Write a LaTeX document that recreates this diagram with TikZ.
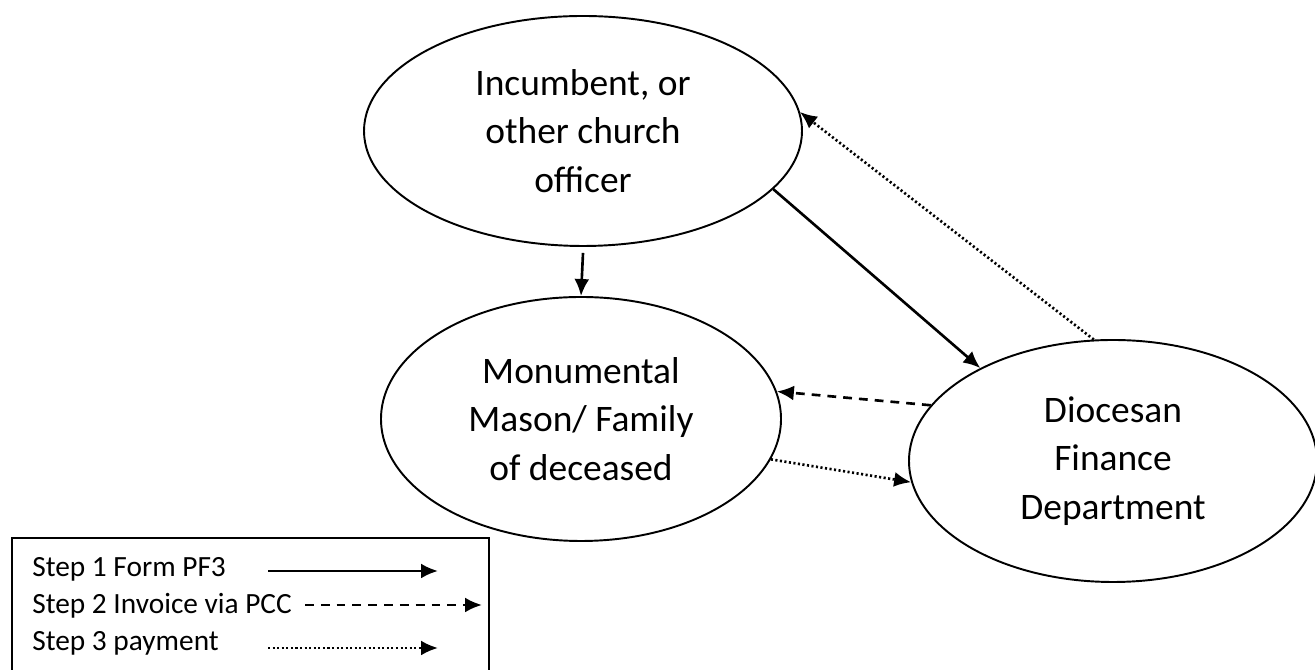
\documentclass[tikz,border=0pt]{standalone}
\usepackage{fontspec}
\setmainfont{Carlito}
\usetikzlibrary{shapes.geometric,arrows.meta}

\tikzset{
  party/.style={draw,ellipse,line width=1.1pt,align=center,inner sep=0pt,font=\fontsize{21.3}{27.5}\selectfont},
  formline/.style={line width=1.5pt,->},
  invoiceline/.style={line width=1.5pt,dash pattern=on 5pt off 4pt,->},
  payline/.style={line width=1.5pt,dash pattern=on 1.2pt off 1.4pt,->},
  keytext/.style={anchor=base west,inner sep=0pt,font=\fontsize{16.7}{21}\selectfont},
}

\begin{document}
\begin{tikzpicture}[>={Latex[length=0.34cm,width=0.3cm]}]
\useasboundingbox (0,0) rectangle (26.3,13.4);

\node [party,minimum width=8.76cm,minimum height=4.6cm] (inc) at(11.66,10.78){Incumbent, or\\other church\\officer};
\node [party,minimum width=8cm,minimum height=4.88cm] (mason) at(11.62,5.02){Monumental\\Mason/ Family\\of deceased};
\node [party,minimum width=8.16cm,minimum height=4.84cm] (dfd) at(22.26,4.18){Diocesan\\Finance\\Department};

%step 1
\draw[formline]([yshift=-0.12cm]inc.south) -- (mason.north);
\draw[formline](inc.-17) -- (dfd.145);
%step 2
\draw[invoiceline](dfd.163) -- (mason.8);
%step 3
\draw[payline](mason.-12) -- (dfd.186);
\draw[payline](dfd.99) -- (inc.5);

%key
\node [draw,line width=1.1pt,anchor=north west,minimum width=9.54cm,minimum height=2.96cm] (key) at(0.22,2.66){};
\node [keytext] (s1) at(0.64,1.86){Step 1 Form PF3};
\node [keytext] (s2) at(0.64,1.12){Step 2 Invoice via PCC};
\node [keytext] (s3) at(0.64,0.38){Step 3 payment};

\coordinate (s1a) at(5.36,1.98);
\coordinate (s1b) at(8.76,1.98);
\coordinate (s2a) at(6.1,1.3);
\coordinate (s2b) at(9.64,1.3);
\coordinate (s3a) at(5.36,0.44);
\coordinate (s3b) at(8.76,0.44);

\draw[formline](s1a) -- (s1b);
\draw[invoiceline](s2a) -- (s2b);
\draw[payline](s3a) -- (s3b);

\end{tikzpicture}
\end{document}
